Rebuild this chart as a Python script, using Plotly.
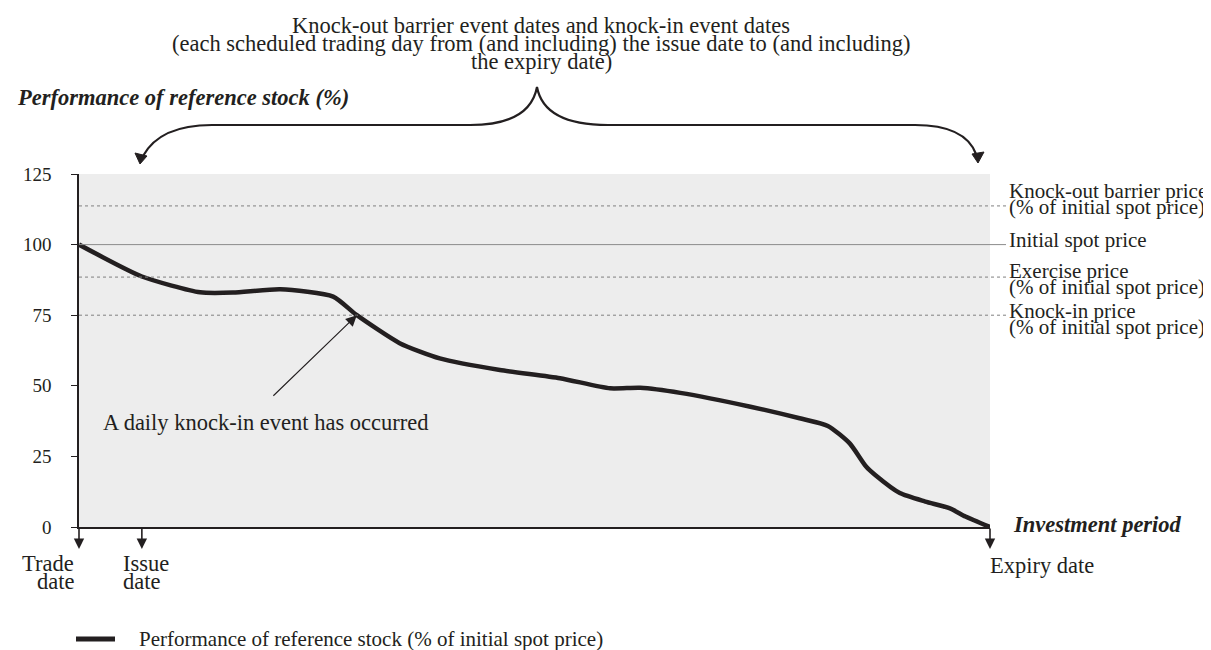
import plotly.graph_objects as go

# ---- data ----
period = [0, 6.9, 13.3, 16.9, 22.1, 27.9, 30.5, 35.2, 39.6, 46.2, 52.8, 58.3, 61.6, 66.0,
          73.7, 79.1, 82.2, 84.6, 86.4, 87.4, 90.1, 92.9, 95.6, 97.3, 100]
performance = [100, 88.7, 83.1, 83.0, 84.2, 81.6, 75.0, 65.1, 59.7, 55.6, 52.7, 49.1, 49.3, 47.5,
               42.6, 38.5, 35.8, 29.6, 21.4, 18.4, 12.0, 9.0, 6.6, 3.7, 0]
ref_levels = [113.7, 100, 88.5, 75]
ref_dash = ["dot", "solid", "dot", "dot"]
ref_labels = [["Knock-out barrier price", "(% of initial spot price)"],
              ["Initial spot price"],
              ["Exercise price", "(% of initial spot price)"],
              ["Knock-in price", "(% of initial spot price)"]]
y_ticks = [0, 25, 50, 75, 100, 125]
date_x = [0, 6.9, 100]
date_names = [["Trade", "date"], ["Issue", "date"], ["Expiry date"]]
knock_in_point = (30.5, 75)
series_name = "Performance of reference stock (% of initial spot price)"

# ---- geometry (screen pixels; page body adds an 8px offset) ----
OFF = 8
FW, FH = 1211 - OFF, 650 - OFF
L, R, T, B = 79, 990, 174, 527
FONT = "Liberation Serif"
INK = "#231f20"


def XP(px):
    return (px - L) / (R - L)


def YP(py):
    return (B - py) / (B - T)


fig = go.Figure()
fig.add_trace(go.Scatter(
    x=period, y=performance, mode="lines",
    line=dict(color=INK, width=4.5, shape="spline", smoothing=0.6),
    name=series_name, showlegend=False))

shapes = []
annotations = []

# reference lines
for lvl, dash in zip(ref_levels, ref_dash):
    shapes.append(dict(type="line", xref="paper", yref="y", x0=0, x1=XP(1006), y0=lvl, y1=lvl,
                       line=dict(color="#8c8c8c" if dash == "solid" else "#808080", width=1, dash=dash),
                       layer="above"))

# right labels
label_y = [[191, 207], [240], [271, 287], [311, 327]]
for lines, ys in zip(ref_labels, label_y):
    for txt, py in zip(lines, ys):
        annotations.append(dict(xref="paper", yref="paper", x=XP(1007), y=YP(py), text=txt,
                                showarrow=False, xanchor="left", yanchor="middle",
                                font=dict(family=FONT, size=21, color=INK)))

# top title lines
for txt, py in zip(["Knock-out barrier event dates and knock-in event dates",
                    "(each scheduled trading day from (and including) the issue date to (and including)",
                    "the expiry date)"], [26, 44, 62]):
    annotations.append(dict(xref="paper", yref="paper", x=XP(541), y=YP(py), text=txt,
                            showarrow=False, xanchor="center", yanchor="middle",
                            font=dict(family=FONT, size=22.5, color=INK)))

# y axis title
annotations.append(dict(xref="paper", yref="paper", x=XP(15), y=YP(98),
                        text="<b><i>Performance of reference stock (%)</i></b>",
                        showarrow=False, xanchor="left", yanchor="middle",
                        font=dict(family=FONT, size=22.5, color=INK)))

# investment period
annotations.append(dict(xref="paper", yref="paper", x=XP(1011), y=YP(524),
                        text="<b><i>Investment period</i></b>",
                        showarrow=False, xanchor="left", yanchor="middle",
                        font=dict(family=FONT, size=22.5, color=INK)))

# date arrows and labels
for dx in date_x:
    annotations.append(dict(x=dx, y=YP(549), xref="x", yref="paper", text="", showarrow=True,
                            ax=0, ay=-22, arrowhead=2, arrowsize=1.3, arrowwidth=1.6,
                            arrowcolor=INK))
date_layout = [("right", -3, [563, 581]), ("left", -21, [563, 581]), ("left", -2, [565])]
for dx, names, (anchor, shift, ys) in zip(date_x, date_names, date_layout):
    for txt, py in zip(names, ys):
        annotations.append(dict(x=dx, y=YP(py), xref="x", yref="paper", text=txt, showarrow=False,
                                xanchor=anchor, yanchor="middle", xshift=shift,
                                font=dict(family=FONT, size=22.5, color=INK)))

# knock-in arrow
annotations.append(dict(x=knock_in_point[0], y=knock_in_point[1], xref="x", yref="y", text="",
                        showarrow=True, ax=-85, ay=82, arrowhead=2, arrowsize=2, arrowwidth=1.1,
                        arrowcolor=INK))
annotations.append(dict(xref="paper", yref="paper", x=XP(101), y=YP(422),
                        text="A daily knock-in event has occurred", showarrow=False,
                        xanchor="left", yanchor="middle", font=dict(family=FONT, size=22.5, color=INK)))

# legend (key line + label)
shapes.append(dict(type="line", xref="paper", yref="paper", x0=XP(76), x1=XP(115),
                   y0=YP(639), y1=YP(639), line=dict(color=INK, width=5)))
annotations.append(dict(xref="paper", yref="paper", x=XP(137), y=YP(639), text=series_name,
                        showarrow=False, xanchor="left", yanchor="middle",
                        font=dict(family=FONT, size=21, color=INK)))

# brace
pts = lambda px, py: f"{XP(px):.5f},{YP(py):.5f}"
brace = (f"M {pts(143,156)} Q {pts(160,125)} {pts(212,125)} L {pts(470,125)} "
         f"Q {pts(530,125)} {pts(537,87)} Q {pts(544,125)} {pts(608,125)} L {pts(915,125)} "
         f"Q {pts(965,125)} {pts(976,154)}")
shapes.append(dict(type="path", xref="paper", yref="paper", path=brace,
                   line=dict(color=INK, width=2.2)))
for tip, b1, b2 in [((140, 164), (135, 153), (147, 156)), ((978, 163), (972, 154), (984, 152))]:
    shapes.append(dict(type="path", xref="paper", yref="paper",
                       path=f"M {pts(*tip)} L {pts(*b1)} L {pts(*b2)} Z",
                       fillcolor=INK, line=dict(color=INK, width=1)))

fig.update_layout(
    width=FW, height=FH, autosize=False,
    margin=dict(l=L - OFF, r=FW - (R - OFF), t=T - OFF, b=FH - (B - OFF), pad=0),
    paper_bgcolor="white", plot_bgcolor="#ededed",
    font=dict(family=FONT, size=20, color=INK),
    showlegend=False,
    xaxis=dict(range=[0, 100], showgrid=False, zeroline=False, showticklabels=False, ticks="",
               showline=True, linecolor=INK, linewidth=1.5, fixedrange=True),
    yaxis=dict(range=[0, 125], tickvals=y_ticks, showgrid=False, zeroline=False, ticks="outside",
               ticklen=6, tickcolor=INK, showline=True, linecolor=INK, linewidth=1.5,
               tickfont=dict(family=FONT, size=19, color=INK), ticklabelstandoff=16,
               fixedrange=True),
    shapes=shapes, annotations=annotations,
)

fig.write_html("out.html")
